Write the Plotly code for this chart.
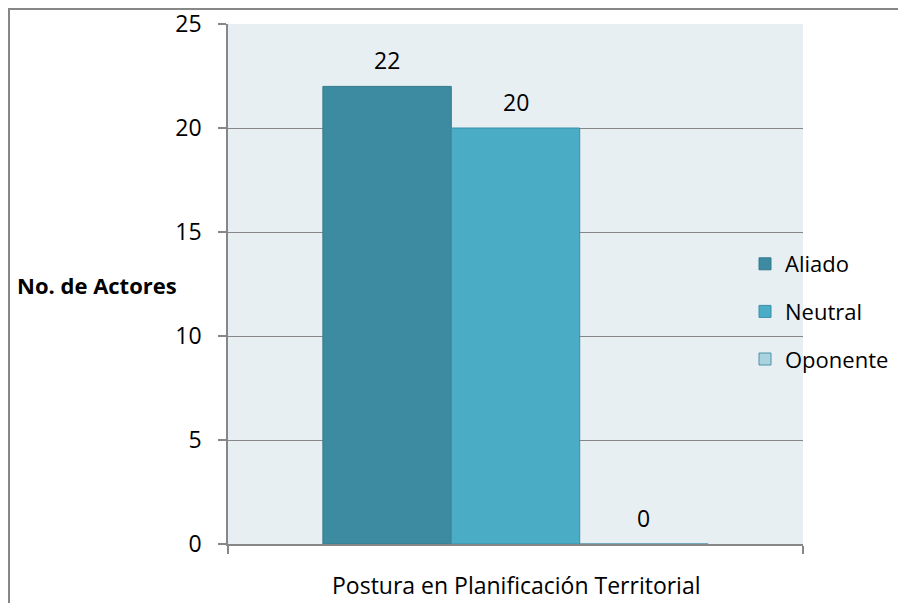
import plotly.graph_objects as go

categories = ["Postura en Planificación Territorial"]
series_names = ["Aliado", "Neutral", "Oponente"]
aliado = [22]
neutral = [20]
oponente = [0]
y_ticks = [0, 5, 10, 15, 20, 25]

colors = ["#3D8BA1", "#4BACC6", "#A9D3DF"]
borders = ["#347A8E", "#3A8EA6", "#4A93A8"]
values = [aliado, neutral, oponente]

OFF = 8  # page body margin
W, H = 890, 595
# plot area in page coordinates: x 228..803, y 24..544
L = 228 - OFF
T = 24 - OFF
R = W - (803 - OFF)
B = H - (544 - OFF)
pw = W - L - R
ph = H - T - B

def px_x(x):  # page px -> paper
    return (x - OFF - L) / pw

def px_y(y):
    return (H - B - (y - OFF)) / ph

def cx(x):  # page px -> container fraction
    return (x - OFF) / W

def cy(y):
    return 1 - (y - OFF) / H

BARGAP = 0.33
FONT = "Open Sans, Lato, sans-serif"

fig = go.Figure()
for i, name in enumerate(series_names):
    fig.add_trace(go.Bar(
        x=categories, y=values[i], name=name,
        marker=dict(color=colors[i], line=dict(color=borders[i], width=1)),
        legendgroup=name,
    ))

# data labels above bars
bw = (1 - BARGAP) / len(series_names)
annotations = []
for i, name in enumerate(series_names):
    for j, v in enumerate(values[i]):
        annotations.append(dict(
            x=j - (1 - BARGAP) / 2 + bw * (i + 0.5), y=v, xref="x", yref="y",
            text=str(v), showarrow=False, yanchor="middle", yshift=26,
            font=dict(size=23, color="#000000")))

annotations += [
    dict(text="<b>No. de Actores</b>", xref="paper", yref="paper",
         x=px_x(15), y=px_y(285), xanchor="left", yanchor="middle",
         showarrow=False, font=dict(size=22)),
    dict(text=categories[0], xref="paper", yref="paper",
         x=px_x(516), y=px_y(585), xanchor="center", yanchor="middle",
         showarrow=False, font=dict(size=23)),
]

border_line = dict(color="#878787", width=2)

fig.update_layout(
    width=W, height=H,
    margin=dict(l=L, r=R, t=T, b=B, autoexpand=False),
    paper_bgcolor="white",
    plot_bgcolor="#E8EFF3",
    font=dict(family=FONT, size=23, color="#000000"),
    barmode="group", bargap=BARGAP, bargroupgap=0,
    showlegend=True,
    legend=dict(xref="container", yref="container",
                x=cx(745), y=cy(243), xanchor="left", yanchor="top",
                font=dict(size=22), tracegroupgap=16, bgcolor="rgba(0,0,0,0)",
                itemwidth=30),
    xaxis=dict(showline=True, linecolor="#878787", linewidth=2,
               tickson="boundaries", ticks="outside", ticklen=8, tickcolor="#878787",
               tickwidth=1.5, showticklabels=False, showgrid=False,
               range=[-0.5, 0.5], layer="above traces"),
    yaxis=dict(range=[0, 25], tickvals=y_ticks, showline=True, linecolor="#878787",
               linewidth=1.5, ticks="outside", ticklen=8, tickcolor="#878787",
               tickwidth=1.5, showgrid=True, gridcolor="#878787", gridwidth=1.2,
               tickfont=dict(size=23), zeroline=False, ticklabelstandoff=12,
               ticklabeloverflow="allow"),
    shapes=[
        dict(type="line", xref="paper", yref="paper",
             x0=px_x(7), x1=px_x(1000), y0=px_y(9), y1=px_y(9),
             line=border_line, layer="above"),
        dict(type="line", xref="paper", yref="paper",
             x0=px_x(9), x1=px_x(9), y0=px_y(8), y1=px_y(700),
             line=border_line, layer="above"),
    ],
    annotations=annotations,
)

fig.write_html("out.html")
